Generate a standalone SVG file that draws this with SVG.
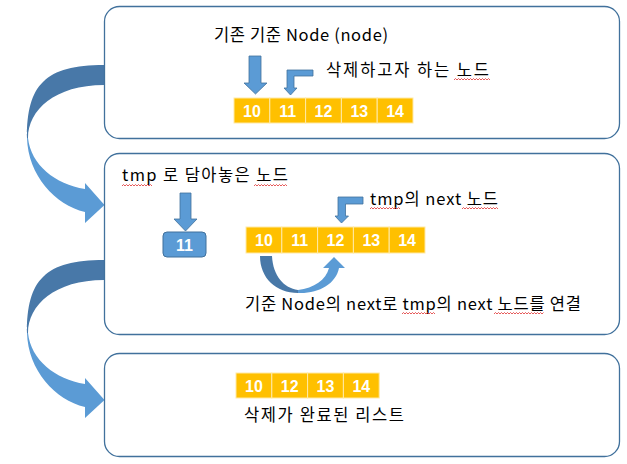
<svg xmlns="http://www.w3.org/2000/svg" width="627" height="464" viewBox="0 0 627 464">
<style>
.box{fill:#fff;stroke:#41719C;stroke-width:1.3}
.cell{fill:#FFC000;stroke:#FFE9A6;stroke-width:1}
.num{font-family:"Liberation Sans",Arial,sans-serif;font-weight:bold;font-size:16px;fill:#fff;text-anchor:middle}
.lbl{font-family:"Noto Sans CJK KR","Noto Sans",sans-serif;font-size:16.5px;fill:#000}
.arr{fill:#5B9BD5;stroke:#41719C;stroke-width:0.8}
.light{fill:#5B9BD5}
.dark{fill:#4878A8}
.sq{fill:none;stroke:#E03030;stroke-width:0.8}
</style>
<defs>
<g id="bigarrow">
<path class="dark" d="M104,65 C45,65 27,85 27,138 L28,138 C28,110 55,85 104,85 Z"/>
<path class="light" d="M27,138 C28,175 55,205 85,212 L85,223 L104.5,205 L85,183 L85,189 C55,184 31,165 28,138 Z"/>
</g>
</defs>
<g id="connectors">
<use href="#bigarrow"/>
<use href="#bigarrow" transform="translate(0,195)"/>
</g>
<g id="step1">
<rect class="box" x="104.5" y="6.5" width="515" height="132" rx="15"/>
<text class="lbl" x="214" y="41" textLength="174" lengthAdjust="spacing">기존 기준 Node (node)</text>
<text class="lbl" x="326" y="76" textLength="163" lengthAdjust="spacing">삭제하고자 하는 노드</text>
<path class="sq" d="M454,80 l1.5,-1.5 l1.5,1.5 l1.5,-1.5 l1.5,1.5 l1.5,-1.5 l1.5,1.5 l1.5,-1.5 l1.5,1.5 l1.5,-1.5 l1.5,1.5 l1.5,-1.5 l1.5,1.5 l1.5,-1.5 l1.5,1.5 l1.5,-1.5 l1.5,1.5 l1.5,-1.5 l1.5,1.5 l1.5,-1.5 l1.5,1.5 l1.5,-1.5 l1.5,1.5 l1.5,-1.5 l1.5,1.5"/>
<path class="arr" d="M249,56 L261,56 L261,83 L267,83 L255.5,94 L244,83 L249,83 Z"/>
<path class="arr" d="M313,70 L287,70 L287,88 L284,88 L290.5,95 L297,88 L294,88 L294,76 L313,76 Z"/>
<g id="list1">
<rect class="cell" x="234" y="98" width="35.8" height="25"/>
<rect class="cell" x="269.8" y="98" width="35.8" height="25"/>
<rect class="cell" x="305.6" y="98" width="35.8" height="25"/>
<rect class="cell" x="341.4" y="98" width="35.8" height="25"/>
<rect class="cell" x="377.2" y="98" width="35.8" height="25"/>
<text class="num" x="251.9" y="116.5">10</text>
<text class="num" x="287.7" y="116.5">11</text>
<text class="num" x="323.5" y="116.5">12</text>
<text class="num" x="359.3" y="116.5">13</text>
<text class="num" x="395.1" y="116.5">14</text>
</g>
</g>
<g id="step2">
<rect class="box" x="104.5" y="153.5" width="515" height="181" rx="15"/>
<text class="lbl" x="122" y="181" textLength="166" lengthAdjust="spacing">tmp 로 담아놓은 노드</text>
<path class="sq" d="M122,186 l1.5,-1.5 l1.5,1.5 l1.5,-1.5 l1.5,1.5 l1.5,-1.5 l1.5,1.5 l1.5,-1.5 l1.5,1.5 l1.5,-1.5 l1.5,1.5 l1.5,-1.5 l1.5,1.5 l1.5,-1.5 l1.5,1.5 l1.5,-1.5 l1.5,1.5 l1.5,-1.5 l1.5,1.5 l1.5,-1.5 l1.5,1.5"/>
<path class="sq" d="M254,186 l1.5,-1.5 l1.5,1.5 l1.5,-1.5 l1.5,1.5 l1.5,-1.5 l1.5,1.5 l1.5,-1.5 l1.5,1.5 l1.5,-1.5 l1.5,1.5 l1.5,-1.5 l1.5,1.5 l1.5,-1.5 l1.5,1.5 l1.5,-1.5 l1.5,1.5 l1.5,-1.5 l1.5,1.5 l1.5,-1.5 l1.5,1.5 l1.5,-1.5 l1.5,1.5"/>
<path class="arr" d="M180,193 L191,193 L191,219 L197,219 L185.5,231 L174,219 L180,219 Z"/>
<g id="tmpnode">
<rect x="163" y="232" width="43" height="25" rx="4" fill="#5B9BD5" stroke="#41719C" stroke-width="1"/>
<text class="num" x="184.5" y="250.5">11</text>
</g>
<text class="lbl" x="370" y="205" textLength="128" lengthAdjust="spacing">tmp의 next 노드</text>
<path class="sq" d="M370,209 l1.5,-1.5 l1.5,1.5 l1.5,-1.5 l1.5,1.5 l1.5,-1.5 l1.5,1.5 l1.5,-1.5 l1.5,1.5 l1.5,-1.5 l1.5,1.5 l1.5,-1.5 l1.5,1.5 l1.5,-1.5 l1.5,1.5 l1.5,-1.5 l1.5,1.5 l1.5,-1.5 l1.5,1.5 l1.5,-1.5 l1.5,1.5"/>
<path class="sq" d="M462,209 l1.5,-1.5 l1.5,1.5 l1.5,-1.5 l1.5,1.5 l1.5,-1.5 l1.5,1.5 l1.5,-1.5 l1.5,1.5 l1.5,-1.5 l1.5,1.5 l1.5,-1.5 l1.5,1.5 l1.5,-1.5 l1.5,1.5 l1.5,-1.5 l1.5,1.5 l1.5,-1.5 l1.5,1.5 l1.5,-1.5 l1.5,1.5 l1.5,-1.5 l1.5,1.5 l1.5,-1.5 l1.5,1.5"/>
<path class="arr" d="M363,197 L338,197 L338,216 L335,216 L341.5,223 L348.5,216 L345.5,216 L345.5,204 L363,204 Z"/>
<g id="list2">
<rect class="cell" x="246" y="227" width="35.8" height="26"/>
<rect class="cell" x="281.8" y="227" width="35.8" height="26"/>
<rect class="cell" x="317.6" y="227" width="35.8" height="26"/>
<rect class="cell" x="353.4" y="227" width="35.8" height="26"/>
<rect class="cell" x="389.2" y="227" width="35.8" height="26"/>
<text class="num" x="263.9" y="246">10</text>
<text class="num" x="299.7" y="246">11</text>
<text class="num" x="335.5" y="246">12</text>
<text class="num" x="371.3" y="246">13</text>
<text class="num" x="407.1" y="246">14</text>
</g>
<path class="dark" d="M260,256 C260,278 276,293 298,293 L298,290 C284,288 273,276 272,256 Z"/>
<path class="light" d="M298,290 C314,288 326,280 329,268 L323,268 L334,257 L345,268 L339,268 C336,284 318,294 298,293 Z"/>
<text class="lbl" x="245" y="310" textLength="336" lengthAdjust="spacing">기준 Node의 next로 tmp의 next 노드를 연결</text>
<path class="sq" d="M402,314 l1.5,-1.5 l1.5,1.5 l1.5,-1.5 l1.5,1.5 l1.5,-1.5 l1.5,1.5 l1.5,-1.5 l1.5,1.5 l1.5,-1.5 l1.5,1.5 l1.5,-1.5 l1.5,1.5 l1.5,-1.5 l1.5,1.5 l1.5,-1.5 l1.5,1.5 l1.5,-1.5 l1.5,1.5 l1.5,-1.5 l1.5,1.5 l1.5,-1.5 l1.5,1.5"/>
<path class="sq" d="M494,314 l1.5,-1.5 l1.5,1.5 l1.5,-1.5 l1.5,1.5 l1.5,-1.5 l1.5,1.5 l1.5,-1.5 l1.5,1.5 l1.5,-1.5 l1.5,1.5 l1.5,-1.5 l1.5,1.5 l1.5,-1.5 l1.5,1.5 l1.5,-1.5 l1.5,1.5 l1.5,-1.5 l1.5,1.5 l1.5,-1.5 l1.5,1.5 l1.5,-1.5 l1.5,1.5 l1.5,-1.5 l1.5,1.5 l1.5,-1.5 l1.5,1.5 l1.5,-1.5 l1.5,1.5 l1.5,-1.5 l1.5,1.5 l1.5,-1.5 l1.5,1.5 l1.5,-1.5"/>
</g>
<g id="step3">
<rect class="box" x="104.5" y="353.5" width="515" height="103" rx="15"/>
<g id="list3">
<rect class="cell" x="236" y="373" width="35.8" height="25"/>
<rect class="cell" x="271.8" y="373" width="35.8" height="25"/>
<rect class="cell" x="307.6" y="373" width="35.8" height="25"/>
<rect class="cell" x="343.4" y="373" width="35.8" height="25"/>
<text class="num" x="253.9" y="391.5">10</text>
<text class="num" x="289.7" y="391.5">12</text>
<text class="num" x="325.5" y="391.5">13</text>
<text class="num" x="361.3" y="391.5">14</text>
</g>
<text class="lbl" x="244" y="421" textLength="160" lengthAdjust="spacing">삭제가 완료된 리스트</text>
</g>
</svg>
